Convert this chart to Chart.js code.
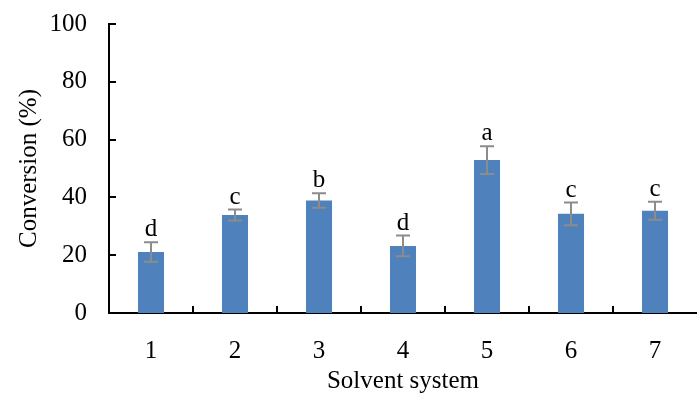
<!DOCTYPE html>
<html>
<head>
<meta charset="utf-8">
<script src="https://cdn.jsdelivr.net/npm/chart.js@4/dist/chart.umd.min.js"></script>
<style>
  html, body { margin: 0; padding: 0; background: #fff; }
</style>
</head>
<body>
<canvas id="myChart" width="697" height="396"></canvas>
<script>
// values
const categories = ['1', '2', '3', '4', '5', '6', '7'];
const conversion = [21.1, 33.9, 38.9, 23.2, 52.9, 34.3, 35.4];
const errors = [3.4, 1.9, 2.5, 3.6, 4.8, 3.9, 3.1];
const letters = ['d', 'c', 'b', 'd', 'a', 'c', 'c'];
const yTicks = [0, 20, 40, 60, 80, 100];

const serif = 'Liberation Serif, Times New Roman, serif';

// error bars, significance letters and inward tick marks
const extras = {
  id: 'extras',
  afterDatasetsDraw(chart) {
    const ctx = chart.ctx;
    const x = chart.scales.x;
    const y = chart.scales.y;
    const area = chart.chartArea;
    ctx.save();

    // error bars
    ctx.strokeStyle = '#8c8c8c';
    ctx.lineWidth = 2;
    for (let i = 0; i < conversion.length; i++) {
      const cx = x.getPixelForValue(i);
      const top = y.getPixelForValue(conversion[i] + errors[i]);
      const bot = y.getPixelForValue(conversion[i] - errors[i]);
      ctx.beginPath();
      ctx.moveTo(cx, top); ctx.lineTo(cx, bot);
      ctx.moveTo(cx - 7, top); ctx.lineTo(cx + 7, top);
      ctx.moveTo(cx - 7, bot); ctx.lineTo(cx + 7, bot);
      ctx.stroke();

      ctx.fillStyle = '#000';
      ctx.font = '25px ' + serif;
      ctx.textAlign = 'center';
      ctx.textBaseline = 'alphabetic';
      ctx.fillText(letters[i], cx, top - 6);
    }

    // tick marks pointing in
    ctx.strokeStyle = '#000';
    ctx.lineWidth = 2;
    ctx.beginPath();
    yTicks.forEach(function (v) {
      const py = Math.round(y.getPixelForValue(v));
      ctx.moveTo(area.left, py); ctx.lineTo(area.left + 7, py);
    });
    for (let i = 1; i < categories.length; i++) {
      const px = Math.round(x.getPixelForValue(i - 0.5));
      ctx.moveTo(px, area.bottom); ctx.lineTo(px, area.bottom - 7);
    }
    ctx.stroke();
    ctx.restore();
  }
};

const myChart = new Chart(document.getElementById('myChart'), {
  type: 'bar',
  data: {
    labels: categories,
    datasets: [{
      label: 'Conversion',
      data: conversion,
      backgroundColor: '#4f81bd',
      borderWidth: 0,
      barPercentage: 0.31,
      categoryPercentage: 1
    }]
  },
  options: {
    responsive: false,
    animation: false,
    layout: { padding: { top: 24, right: 0, left: 0, bottom: 0 } },
    plugins: {
      legend: { display: false },
      tooltip: { enabled: false }
    },
    scales: {
      x: {
        grid: { display: false, drawTicks: false },
        border: { color: '#000', width: 2 },
        ticks: { color: '#000', font: { family: serif, size: 25 }, padding: 23 },
        title: {
          display: true, text: 'Solvent system', color: '#000',
          font: { family: serif, size: 25 }, padding: { top: 0, bottom: 0 }
        },
        afterFit: function (s) { s.height = 83; s.paddingLeft = 0; s.paddingRight = 0; }
      },
      y: {
        min: 0, max: 100,
        grid: { display: false, drawTicks: false },
        border: { color: '#000', width: 2 },
        ticks: { stepSize: 20, color: '#000', font: { family: serif, size: 25 }, padding: 22 },
        title: {
          display: true, text: 'Conversion (%)', color: '#000',
          font: { family: serif, size: 25 }, padding: { top: 14, bottom: 0 }
        },
        afterFit: function (s) { s.width = 109; s.paddingTop = 0; s.paddingBottom = 0; }
      }
    }
  },
  plugins: [extras]
});
</script>
</body>
</html>
